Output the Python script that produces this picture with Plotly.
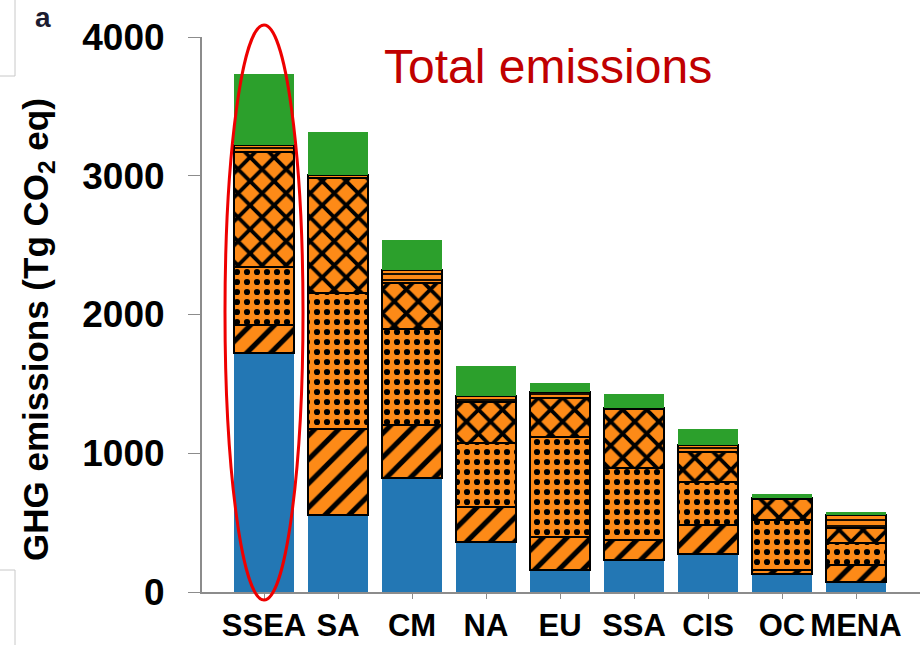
import plotly.graph_objects as go

# Regions and emission components (Tg CO2 eq), stacked bottom to top
regions = ["SSEA", "SA", "CM", "NA", "EU", "SSA", "CIS", "OC", "MENA"]
land_use_change = [1722, 555, 822, 360, 159, 231, 274, 130, 72]
enteric = [202, 620, 382, 253, 237, 144, 209, 29, 123]
manure = [418, 980, 691, 461, 721, 519, 310, 360, 158]
rice_soils = [829, 829, 332, 295, 281, 422, 216, 150, 108]
other_farm = [51, 21, 94, 44, 43, 10, 50, 8, 94]
post_farm = [511, 310, 216, 216, 65, 101, 116, 29, 22]

y_ticks = [0, 1000, 2000, 3000, 4000]

BLUE = "#2377b4"
ORANGE = "#fd8a17"
GREEN = "#2ca02c"
FONT = "Arial, Liberation Sans, sans-serif"

W, H = 922, 645
ML, MR, MT, MB = 202, 2, 37, 53
PW, PH = W - ML - MR, H - MT - MB


def px_x(px):
    return (px - ML) / PW


def px_y(py):
    return (H - MB - py) / PH


fig = go.Figure()

fig.add_bar(x=regions, y=land_use_change, marker=dict(color=BLUE, line=dict(width=0)))

hatched = [
    (enteric, "/", 17, 0.3),
    (manure, ".", 10, 0.3),
    (rice_soils, "x", 17, 0.4),
    (other_farm, "-", 6, 0.3),
]
for vals, shape, size, solid in hatched:
    fig.add_bar(
        x=regions, y=vals,
        marker=dict(
            color=ORANGE,
            line=dict(color="black", width=2),
            pattern=dict(shape=shape, size=size, solidity=solid,
                         fgcolor="black", fgopacity=1, fillmode="overlay"),
        ),
    )

fig.add_bar(x=regions, y=post_farm, marker=dict(color=GREEN, line=dict(width=0)))

shapes = [
    # highlight ring around the first region
    dict(type="circle", xref="paper", yref="paper",
         x0=px_x(225), x1=px_x(303), y0=px_y(600), y1=px_y(25),
         line=dict(color="#ee0000", width=3)),
    # panel frame edges on the left
    dict(type="line", xref="paper", yref="paper", x0=px_x(15), x1=px_x(15),
         y0=px_y(0), y1=px_y(76), line=dict(color="#c8c8c8", width=1)),
    dict(type="line", xref="paper", yref="paper", x0=px_x(0), x1=px_x(15),
         y0=px_y(76), y1=px_y(76), line=dict(color="#c8c8c8", width=1)),
    dict(type="line", xref="paper", yref="paper", x0=px_x(0), x1=px_x(15),
         y0=px_y(570), y1=px_y(570), line=dict(color="#c8c8c8", width=1)),
    dict(type="line", xref="paper", yref="paper", x0=px_x(15), x1=px_x(15),
         y0=px_y(570), y1=px_y(645), line=dict(color="#c8c8c8", width=1)),
]

annotations = [
    dict(text="Total emissions", xref="paper", yref="paper",
         x=px_x(548), y=px_y(66), xanchor="center", yanchor="middle",
         showarrow=False, font=dict(family=FONT, size=48, color="#c00000")),
    dict(text="<b>a</b>", xref="paper", yref="paper",
         x=px_x(43), y=px_y(0), xanchor="center", yanchor="top",
         showarrow=False, font=dict(family=FONT, size=28, color="#1c1c30")),
    dict(text="<b>GHG emissions (Tg CO<sub>2</sub> eq)</b>", xref="paper", yref="paper",
         x=px_x(38), y=px_y(330), xanchor="center", yanchor="middle", textangle=-90,
         showarrow=False, font=dict(family=FONT, size=35, color="black")),
]

fig.update_layout(
    width=W, height=H,
    margin=dict(l=ML, r=MR, t=MT, b=MB, pad=0),
    paper_bgcolor="white", plot_bgcolor="white",
    barmode="stack", bargap=0.19, showlegend=False,
    shapes=shapes, annotations=annotations,
    font=dict(family=FONT, color="black"),
)
fig.update_xaxes(
    range=[-(264 - ML) / 74, (W - MR - 264) / 74],
    automargin=False, tickangle=0,
    showline=True, linecolor="#8c8c8c", linewidth=2,
    ticks="outside", ticklen=5, tickcolor="#8c8c8c",
    tickfont=dict(family=FONT, size=31, color="black", weight="bold"),
    ticklabelstandoff=0, showgrid=False, zeroline=False,
)
fig.update_yaxes(
    range=[0, 4000], tickvals=y_ticks, ticktext=[str(v) for v in y_ticks],
    automargin=False,
    showline=True, linecolor="#8c8c8c", linewidth=2,
    ticks="outside", ticklen=12, tickcolor="#8c8c8c",
    tickfont=dict(family=FONT, size=37, color="black", weight="bold"),
    ticklabelstandoff=16, showgrid=False, zeroline=False,
)

fig.write_html("out.html")
